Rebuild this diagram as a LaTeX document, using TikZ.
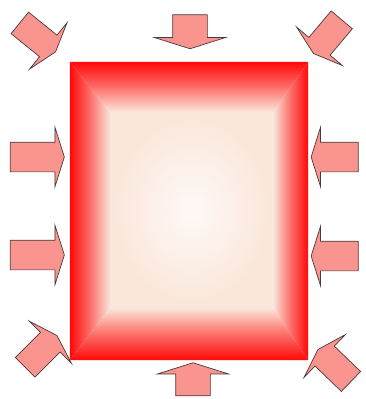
\documentclass[tikz,border=0pt]{standalone}
\usetikzlibrary{
  shapes.arrows,
  calc
}
\definecolor{rimred}{RGB}{255,8,8}
\definecolor{midred}{RGB}{252,110,104}
\definecolor{cream}{RGB}{250,230,218}
\definecolor{centerwhite}{RGB}{254,249,246}
\definecolor{arrowfill}{RGB}{250,148,142}
\definecolor{arrowedge}{RGB}{70,58,58}
\tikzset{
  boxbase/.style={
    rectangle, inner sep=0pt,
    minimum width=238pt, minimum height=298pt
  },
  pusharrow/.style={
    single arrow, draw=arrowedge, fill=arrowfill,
    line width=0.7pt, inner xsep=0pt,
    single arrow tip angle=145
  },
  sidearrow/.style={
    pusharrow, inner ysep=14.5pt,
    single arrow head extend=15pt
  },
  endarrow/.style={
    pusharrow, inner ysep=17pt,
    single arrow head extend=18pt
  },
  cornerarrow/.style={
    pusharrow, inner ysep=13.5pt,
    single arrow head extend=16pt
  },
}

\begin{document}
\begin{tikzpicture}[x=1pt,y=-1pt]

  \useasboundingbox (0,0) rectangle (365,399);

  %% Box with bevelled red rim
  \node[boxbase] (box) at (189,211) {};
  \coordinate (inNW) at (110,112);
  \coordinate (inSE) at (273,308);

  \shade[inner color=centerwhite, outer color=cream]
    (inNW) rectangle (inSE);
  \shade[left color=rimred, right color=cream, middle color=midred]
    (box.north west) -- (inNW) -- (inNW |- inSE) -- (box.south west) -- cycle;
  \shade[right color=rimred, left color=cream, middle color=midred]
    (box.north east) -- (inSE |- inNW) -- (inSE) -- (box.south east) -- cycle;
  \shade[top color=rimred, bottom color=cream, middle color=midred]
    (box.north west) -- (box.north east) -- (inSE |- inNW) -- (inNW) -- cycle;
  \shade[bottom color=rimred, top color=cream, middle color=midred]
    (box.south west) -- (inNW |- inSE) -- (inSE) -- (box.south east) -- cycle;

  %% Arrows pressing in from all sides
  \node[cornerarrow, minimum height=46pt, rotate=-39] (arrTL) at (36,36) {};
  \node[endarrow, minimum height=34pt, rotate=-90] (arrT) at (190,29) {};
  \node[cornerarrow, minimum height=44pt, rotate=-130] (arrTR) at (329,35) {};

  \node[sidearrow, minimum height=54pt] (arrLa) at (35,157) {};
  \node[sidearrow, minimum height=54pt] (arrLb) at (35,255) {};
  \node[sidearrow, minimum height=47pt, rotate=180] (arrRa) at (337,157) {};
  \node[sidearrow, minimum height=47pt, rotate=180] (arrRb) at (337,256) {};

  \node[cornerarrow, minimum height=45pt, rotate=45] (arrBL) at (39.5,353) {};
  \node[endarrow, minimum height=33pt, rotate=90] (arrB) at (193,382) {};
  \node[cornerarrow, minimum height=46pt, rotate=136] (arrBR) at (336,367) {};

\end{tikzpicture}
\end{document}
